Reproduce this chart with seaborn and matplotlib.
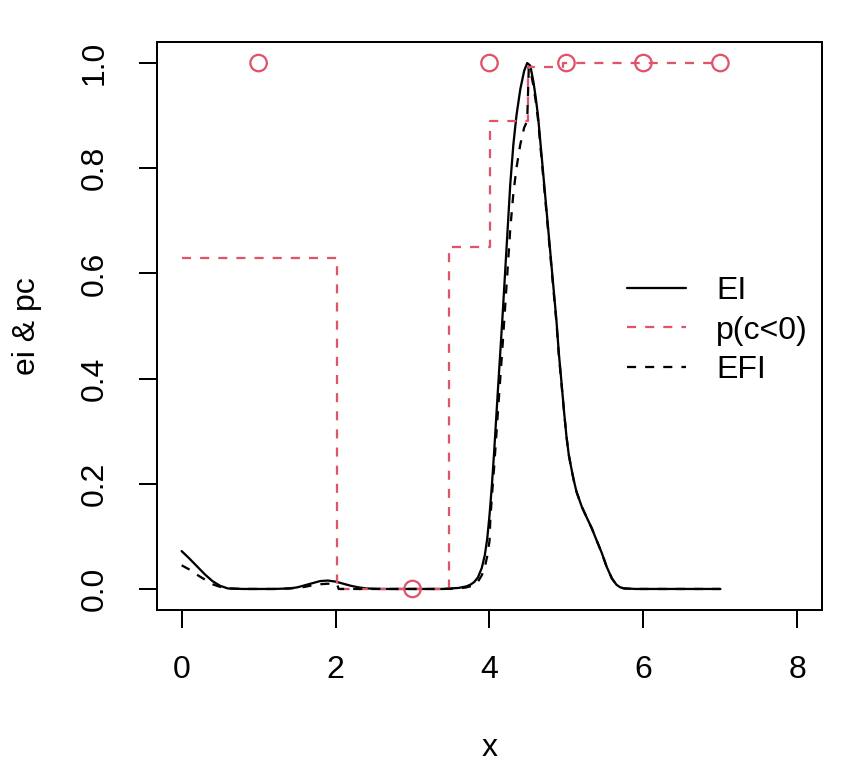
import numpy as np
import pandas as pd
import seaborn as sns
import matplotlib.pyplot as plt

# EI curve
ei_x = [0, 0.1, 0.2, 0.3, 0.4, 0.5, 0.6, 0.8, 1.2, 1.4, 1.5, 1.6, 1.7, 1.8, 1.9, 2.0,
        2.1, 2.2, 2.3, 2.4, 2.6, 3.0, 3.4, 3.6, 3.7, 3.75, 3.8, 3.85, 3.9, 3.94, 3.97,
        4.0, 4.03, 4.06, 4.11, 4.17, 4.22, 4.27, 4.31, 4.35, 4.40, 4.45, 4.49, 4.53,
        4.57, 4.60, 4.63, 4.67, 4.71, 4.75, 4.79, 4.83, 4.87, 4.90, 4.94, 4.97, 5.0,
        5.03, 5.06, 5.09, 5.13, 5.2, 5.26, 5.33, 5.39, 5.46, 5.52, 5.59, 5.65, 5.7,
        5.75, 5.9, 7.0]
ei_y = [0.072, 0.058, 0.043, 0.028, 0.015, 0.006, 0.001, 0.0, 0.0, 0.001, 0.003, 0.007,
        0.011, 0.015, 0.016, 0.014, 0.010, 0.006, 0.003, 0.001, 0.0, 0.0, 0.0, 0.002,
        0.005, 0.008, 0.013, 0.022, 0.040, 0.065, 0.095, 0.14, 0.195, 0.26, 0.38, 0.52,
        0.645, 0.77, 0.845, 0.90, 0.95, 0.985, 1.0, 0.995, 0.965, 0.935, 0.90, 0.835,
        0.77, 0.705, 0.64, 0.575, 0.51, 0.45, 0.385, 0.335, 0.29, 0.255, 0.232, 0.21,
        0.185, 0.156, 0.137, 0.115, 0.093, 0.068, 0.043, 0.020, 0.008, 0.003, 0.001,
        0.0, 0.0]

# EFI curve
efi_x = [0, 0.1, 0.2, 0.3, 0.4, 0.5, 0.6, 0.8, 1.2, 1.4, 1.5, 1.6, 1.7, 1.8, 1.9, 2.0,
         2.02, 2.04, 3.0, 3.4, 3.6, 3.7, 3.75, 3.8, 3.85, 3.9, 3.94, 3.97, 4.0, 4.01,
         4.03, 4.06, 4.11, 4.17, 4.22, 4.27, 4.31, 4.35, 4.40, 4.45, 4.49, 4.51, 4.53,
         4.57, 4.60, 4.63, 4.67, 4.71, 4.75, 4.79, 4.83, 4.87, 4.90, 4.94, 4.97, 5.0,
         5.03, 5.06, 5.09, 5.13, 5.2, 5.26, 5.33, 5.39, 5.46, 5.52, 5.59, 5.65, 5.7,
         5.75, 5.9, 7.0]
efi_y = [0.045, 0.037, 0.027, 0.018, 0.009, 0.004, 0.001, 0.0, 0.0, 0.001, 0.002, 0.004,
         0.007, 0.009, 0.010, 0.009, 0.009, 0.0, 0.0, 0.0, 0.001, 0.003, 0.005, 0.008,
         0.014, 0.026, 0.042, 0.062, 0.091, 0.13, 0.174, 0.231, 0.338, 0.463, 0.574,
         0.685, 0.752, 0.80, 0.845, 0.877, 0.89, 0.99, 0.987, 0.957, 0.928, 0.893, 0.828,
         0.764, 0.70, 0.635, 0.57, 0.506, 0.446, 0.382, 0.335, 0.29, 0.255, 0.232, 0.21,
         0.185, 0.156, 0.137, 0.115, 0.093, 0.068, 0.043, 0.020, 0.008, 0.003, 0.001,
         0.0, 0.0]

# p(c<0) step function: breakpoints and levels
pc_breaks = [0, 2.02, 3.48, 4.01, 4.5, 4.96, 7.0]
pc_levels = [0.63, 0.0, 0.65, 0.89, 0.992, 1.0, 1.0]

# observed points
obs_x = [1, 3, 4, 5, 6, 7]
obs_y = [1, 0, 1, 1, 1, 1]

red = "#DF536B"

sns.set_style("ticks")
plt.rcParams["font.family"] = ["Liberation Sans", "DejaVu Sans"]
plt.rcParams["font.size"] = 12
plt.rcParams["text.color"] = "black"
plt.rcParams["axes.labelcolor"] = "black"
plt.rcParams["axes.linewidth"] = 0.75
plt.rcParams["xtick.major.size"] = 6.75
plt.rcParams["ytick.major.size"] = 6.75
plt.rcParams["xtick.major.width"] = 0.75
plt.rcParams["ytick.major.width"] = 0.75
plt.rcParams["xtick.major.pad"] = 10
plt.rcParams["ytick.major.pad"] = 11
plt.rcParams["xtick.color"] = "black"
plt.rcParams["ytick.color"] = "black"
plt.rcParams["axes.edgecolor"] = "black"

fig = plt.figure(figsize=(4.5, 4), dpi=192)
ax = fig.add_axes([157 / 864, 1 - 610 / 768, (822 - 157) / 864, (610 - 42) / 768])

dash = (0, (4, 4))
lw = 0.85
sns.lineplot(x=ei_x, y=ei_y, ax=ax, color="black", linewidth=lw,
             estimator=None, sort=False, label="EI")
sns.lineplot(x=pc_breaks, y=pc_levels, ax=ax, color=red, linewidth=lw,
             linestyle=dash, drawstyle="steps-post", estimator=None, sort=False,
             label="p(c<0)")
sns.lineplot(x=efi_x, y=efi_y, ax=ax, color="black", linewidth=lw,
             linestyle=dash, estimator=None, sort=False, label="EFI")
sns.scatterplot(x=obs_x, y=obs_y, ax=ax, color=red, facecolors="none",
                edgecolor=red, linewidth=0.85, s=38, zorder=3)

ax.set_xlim(-0.32, 8.32)
ax.set_ylim(-0.04, 1.04)
ax.set_xticks([0, 2, 4, 6, 8])
ax.set_yticks([0.0, 0.2, 0.4, 0.6, 0.8, 1.0])
ax.set_yticklabels(["0.0", "0.2", "0.4", "0.6", "0.8", "1.0"], rotation=90, va="center")
ax.set_xlabel("x", labelpad=18)
ax.set_ylabel("ei & pc", labelpad=14)

ax.legend(loc="upper left", bbox_to_anchor=(626.7 / 864, 1 - 276 / 768),
          bbox_transform=fig.transFigure, frameon=False, borderpad=0,
          borderaxespad=0, handlelength=1.85, handletextpad=0.94, labelspacing=0.3)

fig.savefig("out.png", dpi=192)
